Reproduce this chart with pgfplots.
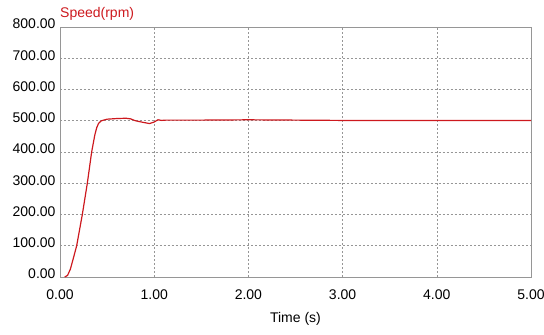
\documentclass[border=0pt]{standalone}
\usepackage{pgfplots}
\pgfplotsset{compat=1.18}
\usepackage{fontspec}
\setmainfont{Liberation Sans}
\definecolor{curve}{RGB}{205,25,30}
\definecolor{gridc}{RGB}{150,150,150}
\begin{document}
\begin{tikzpicture}
\begin{axis}[name=ax,
  scale only axis, width=471bp, height=250bp,
  xmin=0, xmax=5, ymin=0, ymax=800,
  xtick={0,1,2,3,4,5}, ytick={0,100,...,800},
  xticklabel={\pgfmathprintnumber[fixed,fixed zerofill,precision=2]{\tick}},
  yticklabel={\pgfmathprintnumber[fixed,fixed zerofill,precision=2]{\tick}},
  /pgf/number format/assume math mode=true,
  ticklabel style={font=\fontsize{14bp}{16bp}\selectfont},
  xticklabel style={yshift=-9bp},
  yticklabel style={yshift=3bp, xshift=-1bp},
  major tick length=0pt,
  axis line style={gridc, line width=0.8pt},
  grid=major,
  grid style={gridc, dash pattern=on 2pt off 2pt, line width=0.5pt},
  xlabel={Time (s)},
  xlabel style={font=\fontsize{14bp}{16bp}\selectfont, yshift=-6bp},
  clip=false,
]
\addplot[curve, line width=1.2pt] coordinates {
(0.05,0) (0.08,5) (0.11,25) (0.14,58) (0.177,100) (0.237,200) (0.29,300) (0.336,400) (0.37,455) (0.39,478) (0.41,492) (0.44,500) (0.5,505) (0.6,507) (0.7,508) (0.75,506) (0.8,500) (0.88,495) (0.95,491) (1.0,496) (1.04,503) (1.08,501) (1.12,502) (1.2,502) (1.5,502) (2.0,503) (2.5,502) (3,501) (4,501) (5,501)
};
\end{axis}
\node[anchor=south west, inner sep=0pt, text=curve, font=\fontsize{14bp}{16bp}\selectfont] at ([yshift=6bp]ax.north west) {Speed(rpm)};
\pgfresetboundingbox
\path ([xshift=-60bp,yshift=-58bp]ax.south west) rectangle ([xshift=13bp,yshift=27bp]ax.north east);
\end{tikzpicture}
\end{document}
